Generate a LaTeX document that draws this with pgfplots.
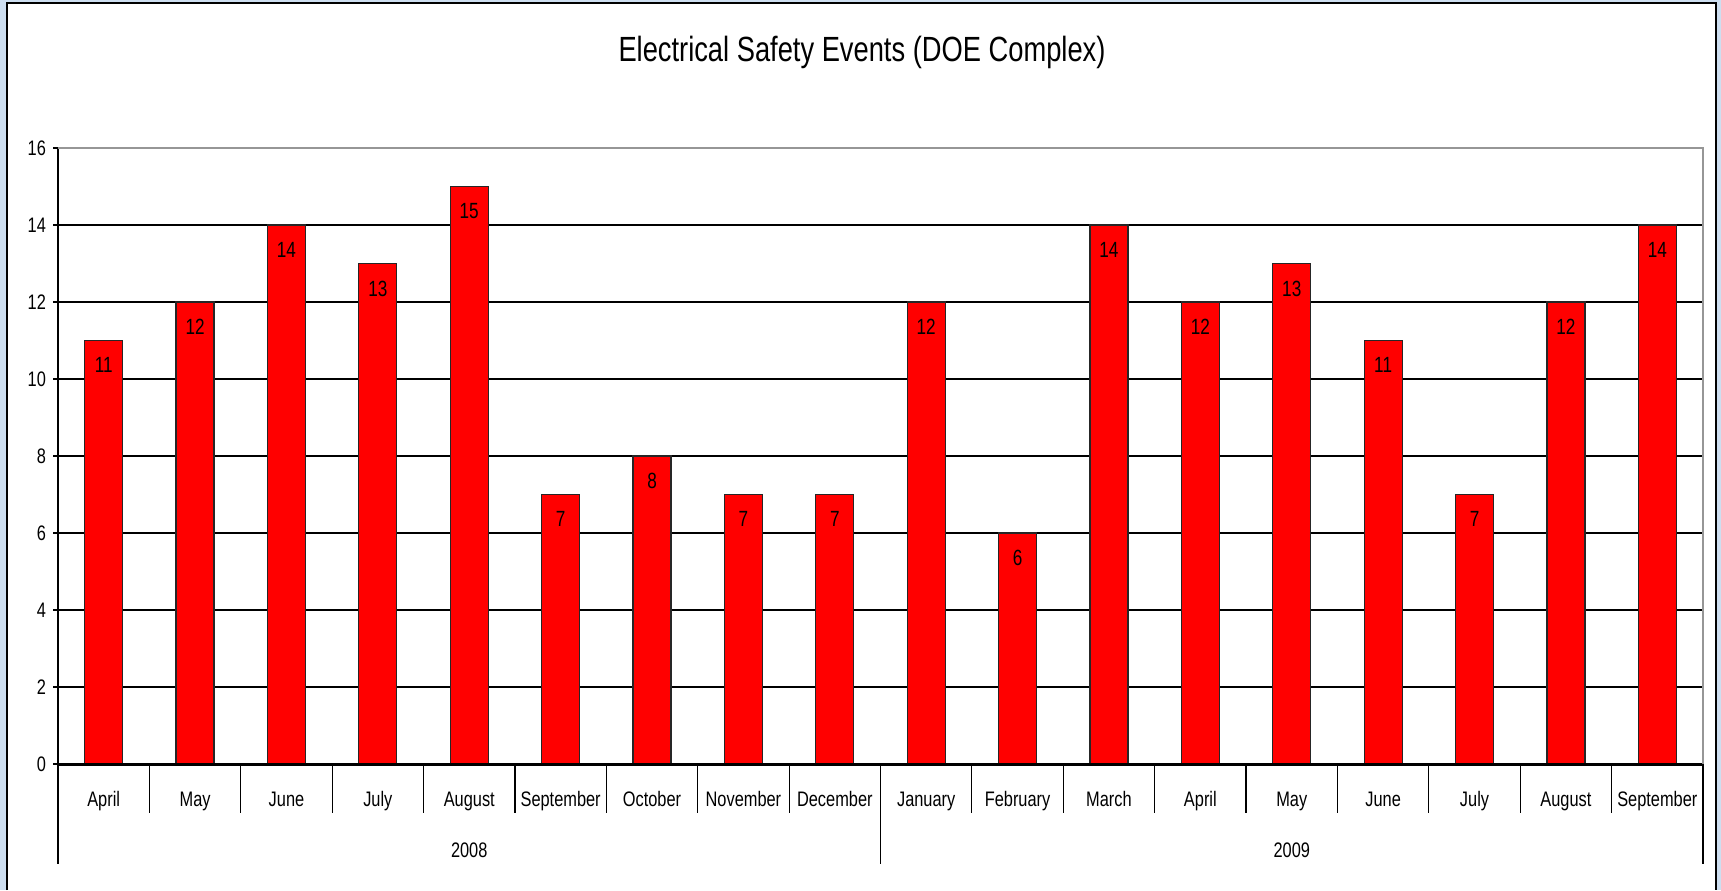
\documentclass[border=0pt]{standalone}
\usepackage{fontspec}
\setmainfont{Liberation Sans}[FakeStretch=0.78]
\usepackage{pgfplots}
\pgfplotsset{compat=1.18}
\definecolor{bgblue}{RGB}{205,222,240}
\definecolor{framegray}{RGB}{150,150,150}
\begin{document}
\begin{tikzpicture}
\useasboundingbox (0pt,0pt) rectangle (860.5pt,445pt);
\fill[bgblue] (0pt,0pt) rectangle (860.5pt,445pt);
\fill[white] (3.5pt,0pt) rectangle (858pt,443.5pt);
\draw[black,line width=1pt] (3.5pt,0pt) -- (3.5pt,443.5pt) -- (858pt,443.5pt) -- (858pt,0pt);
\node[font=\fontsize{17.5}{20}\selectfont] at (431pt,419pt) {Electrical Safety Events (DOE Complex)};
\begin{axis}[
  at={(29pt,63pt)}, anchor=south west, scale only axis,
  width=822.5pt, height=308pt,
  xmin=-0.5, xmax=17.5, ymin=0, ymax=16,
  ytick={0,2,...,16}, xtick={0,...,17},
  ytick pos=left, xtick pos=bottom,
  xticklabels={April,May,June,July,August,September,October,November,December,January,February,March,April,May,June,July,August,September},
  ymajorgrids, grid style={black, line width=0.9pt},
  axis line style={draw=none},
  xtick style={draw=none}, ytick style={black, line width=0.6pt},
  tick align=outside, major tick length=2.5pt,
  /pgf/number format/assume math mode=true,
  ticklabel style={font=\fontsize{10.5}{12}\selectfont},
  xticklabel style={anchor=base, yshift=-18.5pt},
  clip=false,
  ybar, bar width=19pt,
  nodes near coords,
  every node near coord/.append style={anchor=north, yshift=-5pt, font=\fontsize{11}{13}\selectfont, black},
]
\addplot[fill=red, draw=black!85, line width=0.6pt] coordinates {
 (0,11) (1,12) (2,14) (3,13) (4,15) (5,7) (6,8) (7,7) (8,7)
 (9,12) (10,6) (11,14) (12,12) (13,13) (14,11) (15,7) (16,12) (17,14)};
\draw[black, line width=1.5pt] (rel axis cs:0,0) -- (rel axis cs:1,0);
\draw[black, line width=0.6pt] (rel axis cs:0,0) -- (rel axis cs:0,1);
\draw[framegray, line width=1pt] (rel axis cs:0,1) -- (rel axis cs:1,1) -- (rel axis cs:1,0);
\pgfplotsinvokeforeach{0.5,1.5,2.5,3.5,4.5,5.5,6.5,7.5,9.5,10.5,11.5,12.5,13.5,14.5,15.5,16.5}{
  \draw[black, line width=0.6pt] (axis cs:#1,0) -- ([yshift=-24.5pt]axis cs:#1,0);
}
\pgfplotsinvokeforeach{-0.5,8.5,17.5}{
  \draw[black, line width=0.6pt] (axis cs:#1,0) -- ([yshift=-50pt]axis cs:#1,0);
}
\node[anchor=base, font=\fontsize{10.5}{12}\selectfont] at ([yshift=-46.5pt]axis cs:4,0) {2008};
\node[anchor=base, font=\fontsize{10.5}{12}\selectfont] at ([yshift=-46.5pt]axis cs:13,0) {2009};
\end{axis}
\end{tikzpicture}
\end{document}
